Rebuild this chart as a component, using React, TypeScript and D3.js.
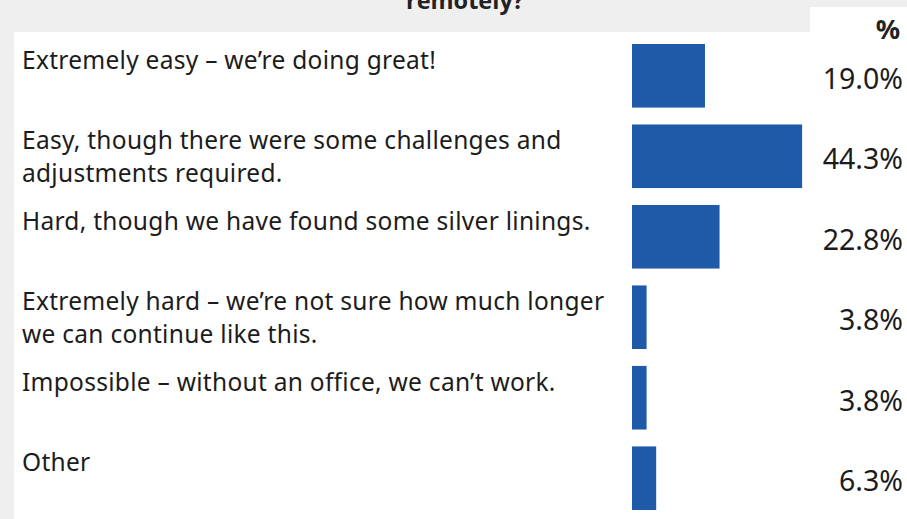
import React, { useEffect, useRef } from "react";
import * as d3 from "d3";

const categories = [
  "Extremely easy",
  "Easy",
  "Hard",
  "Extremely hard",
  "Impossible",
  "Other",
];
const labelLines = [
  ["Extremely easy – we’re doing great!"],
  ["Easy, though there were some challenges and", "adjustments required."],
  ["Hard, though we have found some silver linings."],
  ["Extremely hard – we’re not sure how much longer", "we can continue like this."],
  ["Impossible – without an office, we can’t work."],
  ["Other"],
];
const values = [19.0, 44.3, 22.8, 3.8, 3.8, 6.3];
const valueLabels = ["19.0%", "44.3%", "22.8%", "3.8%", "3.8%", "6.3%"];

const W = 907;
const H = 519;
const FONT = "'Noto Sans', sans-serif";

const App = () => {
  const ref = useRef<SVGSVGElement>(null);

  useEffect(() => {
    const svg = d3.select(ref.current);
    svg.selectAll("*").remove();

    // background + white panels
    svg.append("rect").attr("width", W).attr("height", H).attr("fill", "#efefef");
    svg.append("rect").attr("x", 14).attr("y", 32).attr("width", W - 14).attr("height", H - 32).attr("fill", "#fff");
    svg.append("rect").attr("x", 810).attr("y", 7).attr("width", W - 810).attr("height", 40).attr("fill", "#fff");

    // title, cut off at top like the source
    svg.append("text")
      .attr("x", 465).attr("y", 9)
      .attr("text-anchor", "middle")
      .style("font-family", "'Open Sans', sans-serif")
      .style("font-weight", "bold")
      .style("font-size", "23.5px")
      .attr("fill", "#222")
      .text("remotely?");

    svg.append("text")
      .attr("x", 888).attr("y", 39)
      .attr("text-anchor", "middle")
      .style("font-family", FONT)
      .style("font-weight", "bold")
      .style("font-size", "27px")
      .attr("fill", "#222")
      .text("%");

    const x = d3.scaleLinear().domain([0, 100]).range([0, 384]);
    const y = d3.scaleBand<string>()
      .domain(categories)
      .range([44, 44 + 6 * 80.5 - 17])
      .paddingInner(0.21);

    const rows = svg.selectAll("g.row")
      .data(categories)
      .join("g")
      .attr("class", "row")
      .attr("transform", (d) => `translate(0, ${y(d)})`);

    rows.append("rect")
      .attr("x", 632)
      .attr("y", 0)
      .attr("width", (d, i) => x(values[i]))
      .attr("height", y.bandwidth())
      .attr("fill", "#1e5aa8");

    rows.each(function (d, i) {
      const g = d3.select(this);
      labelLines[i].forEach((line, j) => {
        g.append("text")
          .attr("x", 22)
          .attr("y", 25 + j * 33)
          .style("font-family", FONT)
          .style("font-size", "24.5px")
          .style("letter-spacing", "0.28px")
          .attr("fill", "#1c1c1c")
          .text(line);
      });
    });

    rows.append("text")
      .attr("x", 903)
      .attr("y", 45)
      .attr("text-anchor", "end")
      .style("font-family", FONT)
      .style("font-size", "28.5px")
      .attr("fill", "#1c1c1c")
      .text((d, i) => valueLabels[i]);
  }, []);

  return (
    <svg
      ref={ref}
      width={W}
      height={H}
      style={{ position: "absolute", left: 0, top: 0, display: "block" }}
    />
  );
};

export default App;
